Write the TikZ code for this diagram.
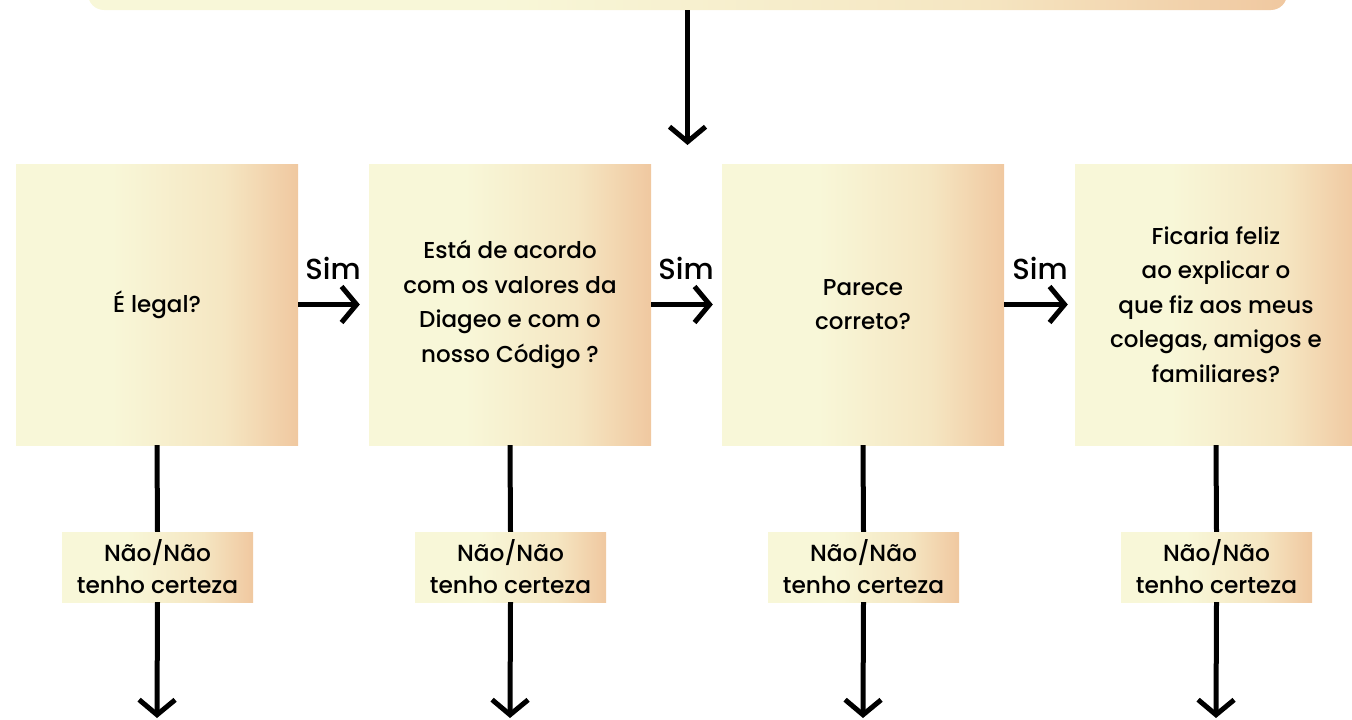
\documentclass[tikz,border=0pt]{standalone}
\usepackage{fontspec}
\setmainfont{Poppins}[UprightFont=* Medium]
\usetikzlibrary{arrows.meta}
\definecolor{yel}{HTML}{F8F7D8}
\definecolor{mid}{HTML}{F5E6C2}
\definecolor{pch}{HTML}{F0C8A0}
\pgfdeclarehorizontalshading{boxshade}{100bp}{color(0bp)=(yel); color(25bp)=(yel); color(42bp)=(yel); color(62bp)=(mid); color(75bp)=(pch); color(100bp)=(pch)}
\begin{document}
\begin{tikzpicture}[x=1pt,y=-1pt,
  qbox/.style={shading=boxshade, minimum width=282pt, minimum height=281pt, inner sep=0pt, align=center, font=\fontsize{23}{34.5}\selectfont},
  nbox/.style={shading=boxshade, minimum width=191pt, minimum height=70pt, inner sep=0pt, align=center, font=\fontsize{23.3}{32}\selectfont},
  line/.style={line width=5pt},
  conn/.style={line width=5pt, -{Straight Barb[length=15pt,width=36pt]}},
  simlbl/.style={font=\fontsize{29}{30}\selectfont}]
\clip (0,0) rectangle (1352,720);
\useasboundingbox (0,0) rectangle (1352,720);
% top box
\node[shading=boxshade, rounded corners=16pt, minimum width=1199pt, minimum height=60pt, inner sep=0pt] (top) at (687.5,-20) {};
\coordinate (t1) at (687.5,145);
\draw[conn] (top.south) -- (t1);
% question boxes
\node[qbox] (q1) at (157,304.5) {É legal?};
\node[qbox] (q2) at (510,304.5) {Está de acordo\\com os valores da\\Diageo e com o\\nosso Código ?};
\node[qbox] (q3) at (863,304.5) {Parece\\correto?};
\node[qbox] (q4) at (1216,304.5) {Ficaria feliz\\ao explicar o\\que fiz aos meus\\colegas, amigos e\\familiares?};
% Sim arrows
\draw[conn, shorten >=9pt] (q1.east) -- (q2.west);
\draw[conn, shorten >=9pt] (q2.east) -- (q3.west);
\draw[conn, shorten >=7pt] (q3.east) -- (q4.west);
\node[simlbl] (s1) at (333,268) {Sim};
\node[simlbl] (s2) at (686,268) {Sim};
\node[simlbl] (s3) at (1040,268) {Sim};
% Nao boxes
\foreach \i/\x in {1/157,2/510,3/863,4/1216}{
  \node[nbox] (n\i) at (\x+0.5,567) {Não/Não\\tenho certeza};
  \coordinate (b\i) at (\x,718);
  \draw[line] (q\i.south) -- (n\i.north);
  \draw[conn] (n\i.south) -- (b\i);
}
\end{tikzpicture}
\end{document}
